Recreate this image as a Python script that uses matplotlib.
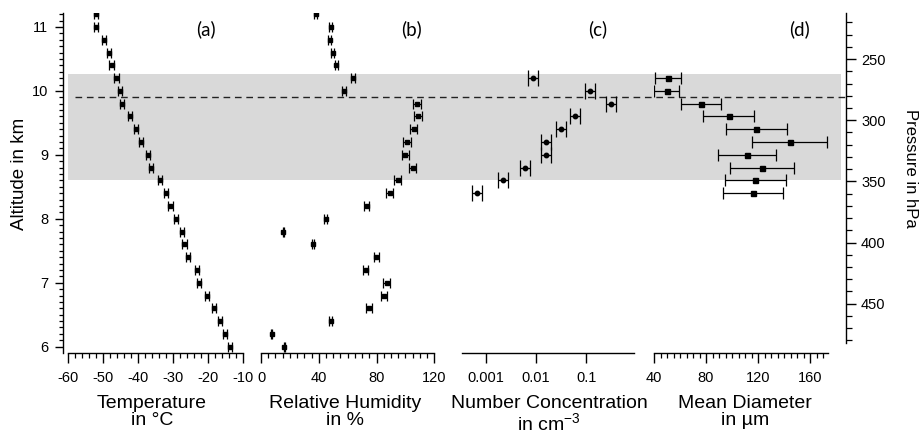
import numpy as np
import matplotlib
matplotlib.use('Agg')
from matplotlib import pyplot as plt
from matplotlib.ticker import MultipleLocator, NullLocator, FixedLocator

plt.rcParams['font.family'] = ['Liberation Sans', 'DejaVu Sans']
plt.rcParams['mathtext.fontset'] = 'custom'
plt.rcParams['mathtext.rm'] = 'Liberation Sans'
plt.rcParams['axes.unicode_minus'] = False

# altitude levels (km) of the profile, top to bottom
alt = [11.2, 11.0, 10.8, 10.6, 10.4, 10.2, 10.0, 9.8, 9.6, 9.4, 9.2, 9.0, 8.8, 8.6,
       8.4, 8.2, 8.0, 7.8, 7.6, 7.4, 7.2, 7.0, 6.8, 6.6, 6.4, 6.2, 6.0]
temp = [-52.1, -52.0, -49.7, -48.4, -47.6, -46.2, -45.1, -44.6, -42.3, -40.5, -39.2,
        -37.1, -36.2, -33.6, -32.1, -30.7, -29.1, -27.4, -26.7, -25.6, -23.2, -22.5,
        -20.2, -18.3, -16.6, -15.0, -13.7]
temp_err = 0.6
rh = [37.9, 48.2, 47.5, 49.6, 52.2, 63.7, 57.7, 108.0, 108.9, 105.7, 101.1, 99.9,
      105.0, 94.6, 89.1, 73.2, 44.8, 15.5, 36.0, 79.9, 72.5, 87.0, 85.4, 74.8, 48.2,
      7.4, 16.2]
rh_err = [0.9, 1.2, 1.2, 1.2, 1.3, 1.6, 1.4, 2.7, 2.7, 2.6, 2.5, 2.5, 2.6, 2.4, 2.2,
          1.8, 1.1, 0.4, 0.9, 2.0, 1.8, 2.2, 2.1, 1.9, 1.2, 0.2, 0.4]

# cloud levels
alt_c = [10.2, 10.0, 9.8, 9.6, 9.4, 9.2, 9.0, 8.8, 8.6, 8.4]
nc = [0.0088, 0.122, 0.31, 0.0595, 0.0313, 0.0156, 0.0156, 0.0060, 0.00224, 0.00068]
nc_fac = 1.26
dia = [51.0, 49.7, 75.9, 97.3, 118.7, 144.2, 111.3, 123.1, 118.0, 116.2]
dia_err = [10.0, 9.5, 15.5, 19.5, 23.7, 28.8, 22.4, 24.7, 23.3, 23.3]

cloud_base, cloud_top = 8.6, 10.27
tropopause = 9.91
ylim = (5.901, 11.214)

W, H = 919, 436
fig = plt.figure(figsize=(W / 100, H / 100), dpi=100)


def box(x0, x1, y0, y1):
    return [x0 / W, 1 - y1 / H, (x1 - x0) / W, (y1 - y0) / H]


# background axes: cloud band, tropopause line and altitude axis
bg = fig.add_axes(box(68.3, 841, 13.3, 353))
bg.set_xlim(0, 1)
bg.set_ylim(*ylim)
bg.axhspan(cloud_base, cloud_top, color='#d9d9d9', lw=0, zorder=0)
bg.axhline(tropopause, xmin=0.009, xmax=1.006, color='#222222', lw=1.0,
           dashes=(4.8, 3.4), clip_on=False)
for s in ['top', 'right', 'bottom']:
    bg.spines[s].set_visible(False)
bg.spines['left'].set_position(('outward', 4))
bg.spines['left'].set_linewidth(1.0)
bg.set_xticks([])
bg.yaxis.set_major_locator(MultipleLocator(1))
bg.yaxis.set_minor_locator(MultipleLocator(0.1))
bg.tick_params(axis='y', which='major', length=5.5, width=1.0, labelsize=10.5, pad=5)
bg.tick_params(axis='y', which='minor', length=3, width=0.9)
fig.text(20 / W, 1 - 174 / H, 'Altitude in km', rotation=90, ha='center',
         va='center', fontsize=13.5)


def panel(x0, x1, xlim):
    ax = fig.add_axes(box(x0, x1, 13.3, 353))
    ax.patch.set_visible(False)
    ax.set_ylim(*ylim)
    ax.set_xlim(*xlim)
    for s in ['top', 'right', 'left']:
        ax.spines[s].set_visible(False)
    ax.spines['bottom'].set_linewidth(1.0)
    ax.set_yticks([])
    ax.tick_params(axis='x', which='major', length=7, width=1.0, labelsize=10.5, pad=6)
    ax.tick_params(axis='x', which='minor', length=3.5, width=0.9)
    return ax


eb = dict(color='black', ecolor='black', elinewidth=0.9, capthick=0.9, ls='none')

# (a) temperature
ax1 = panel(68.3, 242.7, (-60, -10))
ax1.errorbar(temp, alt, xerr=temp_err, fmt='s', ms=3.4, capsize=3.4, **eb)
ax1.xaxis.set_major_locator(MultipleLocator(10))
ax1.xaxis.set_minor_locator(MultipleLocator(2))

# (b) relative humidity
ax2 = panel(261, 434.3, (0, 120))
ax2.errorbar(rh, alt, xerr=rh_err, fmt='s', ms=3.2, capsize=3.4, **eb)
ax2.xaxis.set_major_locator(MultipleLocator(40))
ax2.xaxis.set_minor_locator(MultipleLocator(5))

# (c) number concentration
ax3 = panel(461.7, 634.3, (3.3e-4, 0.916))
ax3.set_xscale('log')
ax3.set_xlim(3.3e-4, 0.916)
nc_arr = np.array(nc)
ax3.errorbar(nc, alt_c, xerr=[nc_arr - nc_arr / nc_fac, nc_arr * nc_fac - nc_arr],
             fmt='o', ms=3.2, capsize=5.5, **eb)
ax3.xaxis.set_major_locator(FixedLocator([0.001, 0.01, 0.1]))
ax3.set_xticklabels(['0.001', '0.01', '0.1'])
ax3.xaxis.set_minor_locator(NullLocator())

# (d) mean diameter
ax4 = panel(654, 828.3, (40, 174))
ax4.errorbar(dia, alt_c, xerr=dia_err, fmt='s', ms=3.6, capsize=4.5, **eb)
ax4.xaxis.set_major_locator(MultipleLocator(40))
ax4.xaxis.set_minor_locator(MultipleLocator(5))

# x labels
xlabels = [(152, 'Temperature\nin °C'),
           (345, 'Relative Humidity\nin %'),
           (549, 'Number Concentration\nin cm$^{\\mathregular{-3}}$'),
           (745, 'Mean Diameter\nin µm')]
for xc, txt in xlabels:
    fig.text(xc / W, 1 - 395 / H, txt, ha='center', va='top', fontsize=14,
             linespacing=1.0)

# panel letters
for xc, letter in [(206, '(a)'), (411.7, '(b)'), (598, '(c)'), (799, '(d)')]:
    fig.text(xc / W, 1 - 29 / H, letter, ha='center', va='center', fontsize=13.5,
             family=['Lato', 'DejaVu Sans'])

# pressure axis on the right
pa = fig.add_axes(box(835, 845.7, 13.3, 343.3))
pa.patch.set_visible(False)
pa.set_ylim(482.4, 212.6)
for s in ['top', 'left', 'bottom']:
    pa.spines[s].set_visible(False)
pa.spines['right'].set_linewidth(1.0)
pa.set_xticks([])
pa.yaxis.tick_right()
pa.yaxis.set_major_locator(MultipleLocator(50))
pa.yaxis.set_minor_locator(MultipleLocator(10))
pa.tick_params(axis='y', which='major', length=7, width=1.0, labelsize=10.5, pad=4)
pa.tick_params(axis='y', which='minor', length=4.5, width=0.9)
fig.text(911 / W, 1 - 168 / H, 'Pressure in hPa', rotation=270, ha='center',
         va='center', fontsize=12)

fig.savefig('out.png', dpi=100)
